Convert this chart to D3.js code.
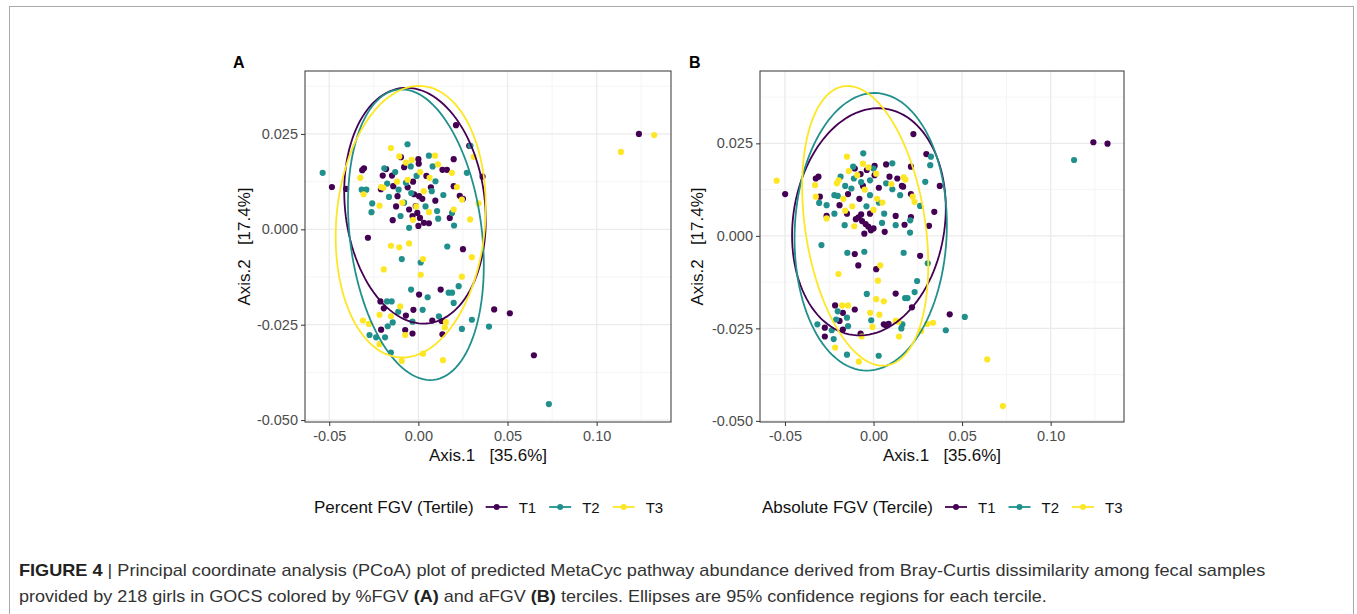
<!DOCTYPE html>
<html>
<head>
<meta charset="utf-8">
<script src="https://cdn.jsdelivr.net/npm/d3@7"></script>
<style>
  body { margin: 0; background: #fff; }
  svg { display: block; font-family: "Liberation Sans", Arial, sans-serif; }
</style>
</head>
<body>
<svg id="fig" width="1357" height="614"></svg>
<script>
// ---- data (PCoA coordinates, Axis.1 / Axis.2) ----
const terciles = ['T1', 'T2', 'T3'];
const xTicks = [-0.05, 0, 0.05, 0.10];
const yTicks = [-0.05, -0.025, 0, 0.025];

// panel A: percent FGV tertiles
const pctT1 = [[-0.0485,0.0111],[-0.0405,0.0106],[-0.0315,0.0155],[-0.0305,0.0160],[-0.0200,0.0141],[-0.0181,0.0158],
  [-0.0148,0.0141],[-0.0141,0.0113],[-0.0098,0.0189],[0.0000,0.0184],[0.0002,0.0172],[-0.0080,0.0163],[0.0198,0.0184],
  [0.0135,0.0156],[0.0160,0.0156],[0.0211,0.0273],[0.0285,0.0219],[0.0198,0.0113],[0.0232,0.0088],[0.0250,0.0080],
  [-0.0024,0.0092],[0.0004,0.0087],[0.0022,0.0080],[-0.0015,0.0061],[-0.0052,0.0052],[-0.0006,0.0043],[-0.0033,0.0035],
  [0.0009,0.0030],[0.0031,0.0017],[0.0000,0.0009],[0.0059,0.0016],[-0.0117,0.0087],[-0.0144,0.0024],[0.0070,0.0110],
  [-0.0060,0.0110],[-0.0030,0.0125],[0.0045,0.0140],[-0.0125,0.0060],[0.0095,0.0075],[-0.0210,0.0105],
  [0.0176,0.0030],[0.0360,0.0138],[-0.0283,-0.0022],[0.0250,-0.0052],[0.0125,-0.0158],[0.0004,-0.0171],[-0.0213,-0.0189],
  [-0.0194,-0.0207],[-0.0028,-0.0211],[-0.0070,-0.0226],[-0.0209,-0.0263],[-0.0074,-0.0264],[-0.0033,-0.0273],
  [0.0078,-0.0239],[0.0130,-0.0240],[0.0135,-0.0275],[0.0425,-0.0210],[0.0513,-0.0220],[0.0648,-0.0330],[0.1237,0.0250]];
const pctT2 = [[-0.0537,0.0148],[-0.0061,0.0223],[-0.0318,0.0104],[-0.0292,0.0104],[-0.0259,0.0068],[-0.0263,0.0045],
  [-0.0111,0.0104],[-0.0070,0.0122],[-0.0043,0.0165],[0.0059,0.0193],[0.0096,0.0126],[0.0272,0.0148],[0.0292,0.0219],
  [-0.0052,0.0004],[0.0111,0.0028],[0.0200,0.0010],[0.0189,0.0043],[0.0105,0.0048],[-0.0191,0.0160],[-0.0165,0.0085],
  [-0.0080,0.0070],[-0.0040,0.0095],[0.0040,0.0060],[0.0075,0.0100],[-0.0130,0.0150],[-0.0010,0.0140],[0.0080,0.0165],
  [-0.0175,0.0120],[0.0140,0.0090],[-0.0100,0.0035],[0.0162,-0.0045],[-0.0093,-0.0078],[0.0013,-0.0087],
  [-0.0041,-0.0158],[0.0226,-0.0149],[0.0170,-0.0166],[0.0189,-0.0166],[0.0052,-0.0178],[0.0198,-0.0193],[-0.0176,-0.0189],
  [-0.0150,-0.0189],[-0.0113,-0.0216],[0.0024,-0.0211],[-0.0144,-0.0244],[-0.0172,-0.0254],[-0.0187,-0.0283],
  [-0.0274,-0.0277],[-0.0237,-0.0283],[0.0115,-0.0228],[-0.0033,-0.0242],[-0.0154,-0.0323],[0.0244,-0.0261],
  [0.0300,-0.0237],[0.0396,-0.0255],[0.0732,-0.0458]];
const pctT3 = [[-0.0326,0.0135],[-0.0307,0.0092],[-0.0154,0.0213],[-0.0218,0.0062],[-0.0209,0.0111],[-0.0196,0.0109],
  [-0.0107,0.0191],[-0.0037,0.0182],[0.0093,0.0193],[0.0063,0.0135],[0.0216,0.0111],[0.0244,0.0078],[0.0290,0.0026],
  [-0.0060,0.0130],[-0.0090,0.0070],[-0.0012,0.0060],[0.0030,0.0100],[0.0188,0.0148],[0.0337,0.0068],[0.0198,0.0052],
  [-0.0120,0.0125],[0.0010,0.0150],[-0.0070,0.0175],[0.0110,0.0170],[-0.0030,0.0025],[0.0060,0.0045],
  [0.0310,0.0190],[-0.0154,-0.0043],[-0.0107,-0.0047],[-0.0052,-0.0037],[0.0026,-0.0078],[0.0300,-0.0073],[-0.0194,-0.0105],
  [0.0013,-0.0119],[-0.0102,-0.0202],[-0.0154,-0.0228],[-0.0218,-0.0224],[-0.0311,-0.0239],[-0.0278,-0.0248],
  [-0.0218,-0.0301],[-0.0074,-0.0277],[0.0148,-0.0257],[0.0154,-0.0243],[-0.0093,-0.0345],[0.0026,-0.0326],
  [0.0138,-0.0343],[0.0244,-0.0124],[0.1136,0.0203],[0.1323,0.0247]];

// panel B: absolute FGV terciles
const absT1 = [[-0.0499,0.0113],[-0.0326,0.0155],[-0.0311,0.0160],[-0.0303,0.0106],[-0.0265,0.0054],[-0.0192,0.0083],
  [-0.0144,0.0113],[-0.0106,0.0182],[-0.0073,0.0167],[-0.0038,0.0178],[0.0006,0.0189],[0.0071,0.0193],[0.0006,0.0164],
  [-0.0060,0.0135],[0.0134,0.0155],[0.0167,0.0133],[0.0211,0.0187],[0.0225,0.0275],[0.0298,0.0221],[0.0374,0.0135],
  [0.0211,0.0113],[0.0211,0.0051],[0.0313,0.0027],[0.0125,0.0054],[0.0063,0.0011],[-0.0052,0.0006],[0.0000,0.0020],
  [-0.0085,0.0050],[-0.0065,0.0040],[-0.0045,0.0032],[-0.0030,0.0025],[-0.0015,0.0015],[-0.0070,0.0058],[-0.0100,0.0045],
  [-0.0080,0.0100],[0.0030,0.0130],[-0.0150,0.0060],[0.0090,0.0160],[-0.0020,0.0060],
  [0.0175,0.0030],[0.0343,0.0065],[0.0160,0.0135],[-0.0106,-0.0049],[-0.0086,-0.0080],[0.0015,-0.0090],[0.0263,-0.0054],
  [0.0125,-0.0156],[-0.0217,-0.0188],[0.0217,-0.0193],[-0.0173,-0.0208],[-0.0106,-0.0199],[-0.0192,-0.0230],
  [0.0058,-0.0239],[0.0071,-0.0242],[0.0085,-0.0238],[-0.0275,-0.0248],[-0.0173,-0.0253],[-0.0073,-0.0264],
  [-0.0275,-0.0272],[0.0430,-0.0212],[0.1241,0.0253],[0.1321,0.0249]];
const absT2 = [[-0.0058,0.0223],[-0.0307,0.0089],[-0.0265,0.0083],[-0.0221,0.0060],[-0.0186,0.0160],[-0.0221,0.0110],
  [-0.0202,0.0108],[-0.0125,0.0128],[-0.0111,0.0155],[-0.0115,0.0187],[0.0000,0.0182],[0.0106,0.0196],[0.0071,0.0142],
  [0.0106,0.0126],[0.0292,0.0146],[0.0263,0.0081],[0.0207,0.0042],[0.0048,0.0035],[0.0125,0.0029],[-0.0163,0.0029],
  [0.0324,0.0214],[0.0320,0.0191],[0.0206,0.0009],[-0.0040,0.0080],[-0.0020,0.0110],[0.0030,0.0090],
  [-0.0160,0.0135],[0.0060,0.0060],[-0.0070,0.0145],[0.0150,0.0110],[-0.0020,0.0150],[-0.0294,-0.0025],
  [-0.0148,-0.0046],[-0.0052,-0.0043],[0.0170,-0.0046],[0.0306,-0.0074],[0.0246,-0.0122],[-0.0038,-0.0157],
  [0.0192,-0.0168],[0.0178,-0.0168],[0.0232,-0.0152],[-0.0202,-0.0204],[-0.0150,-0.0221],[-0.0013,-0.0228],
  [-0.0211,-0.0226],[0.0163,-0.0239],[-0.0144,-0.0244],[-0.0317,-0.0239],[-0.0236,-0.0255],[-0.0225,-0.0279],
  [-0.0150,-0.0321],[0.0029,-0.0324],[0.0157,-0.0250],[0.0408,-0.0255],[0.0515,-0.0219],[0.1132,0.0205]];
const absT3 = [[-0.0547,0.0149],[-0.0330,0.0137],[-0.0326,0.0106],[-0.0265,0.0047],[-0.0207,0.0142],[-0.0198,0.0150],
  [-0.0150,0.0214],[-0.0092,0.0164],[-0.0029,0.0185],[0.0015,0.0168],[-0.0170,0.0100],[-0.0160,0.0068],[-0.0050,0.0125],
  [0.0221,0.0106],[0.0231,0.0092],[0.0171,0.0158],[0.0180,0.0152],[-0.0109,0.0026],[0.0000,0.0070],[0.0050,0.0090],
  [-0.0120,0.0080],[0.0020,0.0100],[-0.0060,0.0195],[0.0100,0.0140],[-0.0140,0.0175],
  [0.0038,-0.0080],[-0.0198,-0.0103],[0.0025,-0.0121],[0.0015,-0.0171],[0.0058,-0.0177],[-0.0177,-0.0188],
  [-0.0144,-0.0188],[-0.0019,-0.0208],[0.0033,-0.0213],[0.0125,-0.0230],[0.0140,-0.0232],[-0.0006,-0.0246],
  [-0.0067,-0.0272],[-0.0217,-0.0302],[-0.0083,-0.0340],[0.0144,-0.0272],[0.0269,-0.0257],[0.0303,-0.0238],
  [0.0336,-0.0235],[0.0642,-0.0334],[0.0730,-0.0460]];

// 95% ellipses: [centre x, centre y, x half-extent, y half-extent, correlation]
const pctEllipses = [[-0.0019,0.0062,0.0397,0.0309,-0.12],[-0.0014,-0.0014,0.0381,0.0381,-0.21],[-0.0043,0.0020,0.0421,0.0356,0.11]];
const absEllipses = [[-0.0026,0.0038,0.0434,0.0307,0.12],[-0.0016,0.0011,0.0430,0.0375,0.05],[-0.0047,0.0027,0.0356,0.0378,-0.28]];

const colors = ['#440154', '#21908C', '#FDE725'];
const svg = d3.select('#fig');

// outer figure frame
svg.append('rect')
    .attr('x', 9.5).attr('y', 6.5).attr('width', 1344).attr('height', 700)
    .attr('fill', 'none').attr('stroke', '#a8a8a8').attr('stroke-width', 1);

function panel(opt) {
    const x = d3.scaleLinear().domain(opt.xDomain).range([opt.left, opt.left + opt.width]),
        y = d3.scaleLinear().domain(opt.yDomain).range([opt.top + opt.height, opt.top]);
    const g = svg.append('g');

    // minor + major grid
    const xMinor = xTicks.map(d => d + 0.025),
        yMinor = [-0.0375, -0.0125, 0.0125, 0.0375];
    const grid = g.append('g');
    grid.selectAll('.vmin').data(xMinor).join('line')
        .attr('x1', d => x(d)).attr('x2', d => x(d)).attr('y1', opt.top).attr('y2', opt.top + opt.height)
        .attr('stroke', '#f2f2f2').attr('stroke-width', 0.8);
    grid.selectAll('.hmin').data(yMinor).join('line')
        .attr('y1', d => y(d)).attr('y2', d => y(d)).attr('x1', opt.left).attr('x2', opt.left + opt.width)
        .attr('stroke', '#f2f2f2').attr('stroke-width', 0.8);
    grid.selectAll('.vmaj').data(xTicks).join('line')
        .attr('x1', d => x(d)).attr('x2', d => x(d)).attr('y1', opt.top).attr('y2', opt.top + opt.height)
        .attr('stroke', '#ebebeb').attr('stroke-width', 1.3);
    grid.selectAll('.hmaj').data(yTicks).join('line')
        .attr('y1', d => y(d)).attr('y2', d => y(d)).attr('x1', opt.left).attr('x2', opt.left + opt.width)
        .attr('stroke', '#ebebeb').attr('stroke-width', 1.3);

    // points
    opt.series.forEach((pts, i) => {
        g.append('g').selectAll('circle').data(pts).join('circle')
            .attr('cx', d => x(d[0])).attr('cy', d => y(d[1])).attr('r', 3.1)
            .attr('fill', colors[i]);
    });

    // confidence ellipses
    const angles = d3.range(0, 361, 3).map(a => a * Math.PI / 180);
    const line = d3.line().x(p => x(p[0])).y(p => y(p[1]));
    opt.ellipses.forEach((e, i) => {
        const [cx, cy, sx, sy, rho] = e;
        const ring = angles.map(t => [cx + sx * Math.cos(t),
            cy + sy * (rho * Math.cos(t) + Math.sqrt(1 - rho * rho) * Math.sin(t))]);
        g.append('path').attr('d', line(ring))
            .attr('fill', 'none').attr('stroke', colors[i]).attr('stroke-width', 1.8);
    });

    // panel border
    g.append('rect')
        .attr('x', opt.left).attr('y', opt.top).attr('width', opt.width).attr('height', opt.height)
        .attr('fill', 'none').attr('stroke', '#333').attr('stroke-width', 1);

    // axes
    const xAxis = g.append('g').attr('transform', `translate(0,${opt.top + opt.height})`)
        .call(d3.axisBottom(x).tickValues(xTicks).tickFormat(d => d.toFixed(2)).tickSize(4).tickPadding(5));
    const yAxis = g.append('g').attr('transform', `translate(${opt.left},0)`)
        .call(d3.axisLeft(y).tickValues(yTicks).tickFormat(d => d.toFixed(3)).tickSize(4).tickPadding(3));
    [xAxis, yAxis].forEach(a => {
        a.select('.domain').remove();
        a.selectAll('line').attr('stroke', '#333');
        a.selectAll('text').attr('fill', '#4d4d4d').style('font-size', '14.5px')
            .style('font-family', '"Liberation Sans", Arial, sans-serif');
    });

    // axis titles
    g.append('text')
        .attr('x', opt.left + opt.width / 2).attr('y', opt.top + opt.height + 39)
        .attr('text-anchor', 'middle').attr('fill', '#111').style('font-size', '17px')
        .text('Axis.1\u00a0\u00a0\u00a0[35.6%]');
    g.append('text')
        .attr('transform', `translate(${opt.yTitleX},${opt.top + opt.height / 2}) rotate(-90)`)
        .attr('text-anchor', 'middle').attr('fill', '#111').style('font-size', '17px')
        .text('Axis.2\u00a0\u00a0\u00a0[17.4%]');

    // panel letter
    g.append('text').attr('x', opt.letterX).attr('y', 68)
        .style('font-size', '16px').style('font-weight', 'bold').text(opt.letter);

    // legend
    const leg = g.append('g').attr('transform', `translate(${opt.legendX},507)`);
    const title = leg.append('text').attr('y', 6).attr('fill', '#111').style('font-size', '17px').text(opt.legendTitle);
    let cur = title.node().getComputedTextLength() + 12;
    terciles.forEach((t, i) => {
        leg.append('line').attr('x1', cur).attr('x2', cur + 22).attr('y1', 0).attr('y2', 0)
            .attr('stroke', colors[i]).attr('stroke-width', 1.8);
        leg.append('circle').attr('cx', cur + 11).attr('cy', 0).attr('r', 3).attr('fill', colors[i]);
        const lab = leg.append('text').attr('x', cur + 33).attr('y', 6).attr('fill', '#111')
            .style('font-size', '15px').text(t);
        cur += 33 + lab.node().getComputedTextLength() + 13;
    });
}

panel({
    left: 305, top: 71, width: 366, height: 351,
    xDomain: [-0.0636, 0.1417], yDomain: [-0.0505, 0.0415],
    series: [pctT1, pctT2, pctT3], ellipses: pctEllipses,
    letter: 'A', letterX: 233, yTitleX: 250,
    legendTitle: 'Percent FGV (Tertile)', legendX: 314
});
panel({
    left: 760, top: 71, width: 364, height: 351,
    xDomain: [-0.0641, 0.1414], yDomain: [-0.0503, 0.04455],
    series: [absT1, absT2, absT3], ellipses: absEllipses,
    letter: 'B', letterX: 689, yTitleX: 703,
    legendTitle: 'Absolute FGV (Tercile)', legendX: 762
});

// caption, each line stretched to the width it spans in the figure
function captionLine(y, parts, targetWidth) {
    const t = svg.append('text').attr('y', 0).style('font-size', '17px').attr('fill', '#333');
    parts.forEach(p => {
        t.append('tspan').style('font-weight', p[1] ? 'bold' : 'normal')
            .attr('fill', p[1] ? '#222' : '#333').text(p[0]);
    });
    const w = t.node().getComputedTextLength();
    t.attr('transform', `translate(19,${y}) scale(${targetWidth / w},1)`);
}
captionLine(576, [['FIGURE 4', true],
    [' | Principal coordinate analysis (PCoA) plot of predicted MetaCyc pathway abundance derived from Bray-Curtis dissimilarity among fecal samples', false]], 1247);
captionLine(602, [['provided by 218 girls in GOCS colored by %FGV ', false], ['(A)', true], [' and aFGV ', false], ['(B)', true],
    [' terciles. Ellipses are 95% confidence regions for each tercile.', false]], 1028);
</script>
</body>
</html>
